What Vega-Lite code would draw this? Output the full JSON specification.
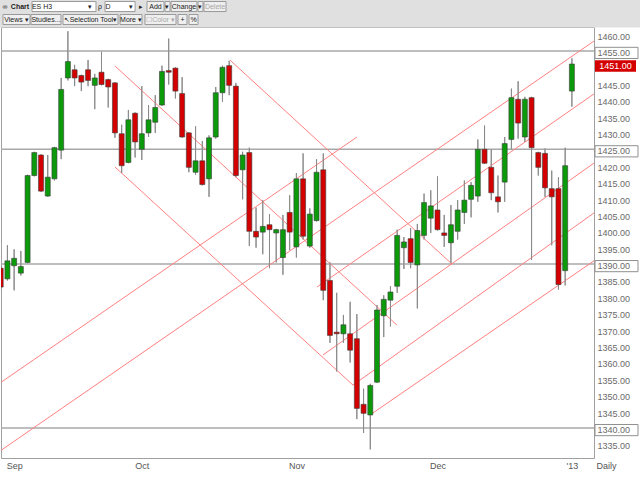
{
  "$schema": "https://vega.github.io/schema/vega-lite/v6.json",
  "width": 593,
  "height": 431,
  "autosize": {"type": "none"},
  "padding": {"left": 1, "top": 27, "right": 46, "bottom": 19},
  "background": "white",
  "config": {
    "view": {"stroke": "#a0a0a0", "strokeWidth": 1},
    "font": "Liberation Sans",
    "axis": {"labelOverlap": false, "labelBound": false, "grid": false, "ticks": false, "domain": false}
  },
  "datasets": {
    "candles": [
      {"i":0,"o":1388.75,"h":1389.5,"l":1382,"c":1383},
      {"i":1,"o":1385.5,"h":1395.75,"l":1385,"c":1391},
      {"i":2,"o":1389.5,"h":1394.5,"l":1382,"c":1391.75},
      {"i":3,"o":1387.25,"h":1394,"l":1386.5,"c":1389.25},
      {"i":4,"o":1390.5,"h":1417.25,"l":1390.25,"c":1417},
      {"i":5,"o":1417,"h":1424.25,"l":1416.75,"c":1424},
      {"i":6,"o":1423.25,"h":1423.5,"l":1412,"c":1412.25},
      {"i":7,"o":1410.75,"h":1423.25,"l":1410.5,"c":1416.5},
      {"i":8,"o":1416,"h":1425.75,"l":1415.5,"c":1425.5},
      {"i":9,"o":1424.75,"h":1446.75,"l":1422,"c":1443.25},
      {"i":10,"o":1446.75,"h":1461,"l":1446,"c":1451.75},
      {"i":11,"o":1449.25,"h":1450.75,"l":1444.25,"c":1446.75},
      {"i":12,"o":1447.5,"h":1447.75,"l":1442.75,"c":1445.5},
      {"i":13,"o":1449.25,"h":1452.25,"l":1444.25,"c":1446},
      {"i":14,"o":1444.5,"h":1448,"l":1437.25,"c":1446.75},
      {"i":15,"o":1448.5,"h":1454.75,"l":1444.5,"c":1444.75},
      {"i":16,"o":1446.25,"h":1446.5,"l":1437.75,"c":1444},
      {"i":17,"o":1445.25,"h":1445.5,"l":1428.5,"c":1430},
      {"i":18,"o":1429.75,"h":1432.5,"l":1417.75,"c":1420},
      {"i":19,"o":1421,"h":1437,"l":1420.75,"c":1434},
      {"i":20,"o":1436,"h":1436.25,"l":1422.5,"c":1427.25},
      {"i":21,"o":1425,"h":1444.25,"l":1421.75,"c":1429.75},
      {"i":22,"o":1430,"h":1438.5,"l":1428.75,"c":1434},
      {"i":23,"o":1433.25,"h":1441.5,"l":1430,"c":1437.75},
      {"i":24,"o":1438.5,"h":1450.5,"l":1438.25,"c":1448.75},
      {"i":25,"o":1449,"h":1458.75,"l":1444.75,"c":1448.5},
      {"i":26,"o":1449.75,"h":1450,"l":1440.5,"c":1442.75},
      {"i":27,"o":1442,"h":1447,"l":1428.5,"c":1428.75},
      {"i":28,"o":1430,"h":1430.25,"l":1418,"c":1419.5},
      {"i":29,"o":1418,"h":1432,"l":1417.25,"c":1421.5},
      {"i":30,"o":1421.5,"h":1427.5,"l":1414,"c":1414.25},
      {"i":31,"o":1416,"h":1429.25,"l":1410.5,"c":1428.5},
      {"i":32,"o":1428.75,"h":1444,"l":1428.25,"c":1442.25},
      {"i":33,"o":1442.25,"h":1450.5,"l":1439.5,"c":1450},
      {"i":34,"o":1450.5,"h":1452,"l":1441.5,"c":1444.5},
      {"i":35,"o":1444.25,"h":1445.25,"l":1416.5,"c":1417},
      {"i":36,"o":1418.75,"h":1424.25,"l":1409.75,"c":1423.25},
      {"i":37,"o":1424,"h":1425.5,"l":1395.5,"c":1400},
      {"i":38,"o":1400,"h":1407.25,"l":1395,"c":1398.25},
      {"i":39,"o":1399.75,"h":1409.5,"l":1393,"c":1401.5},
      {"i":40,"o":1402,"h":1405.25,"l":1388.75,"c":1400.5},
      {"i":41,"o":1399.5,"h":1400.75,"l":1390.5,"c":1400.5},
      {"i":42,"o":1392,"h":1405,"l":1386.75,"c":1400.5},
      {"i":43,"o":1405.75,"h":1411,"l":1394.25,"c":1399.75},
      {"i":44,"o":1395.25,"h":1417.75,"l":1392,"c":1416},
      {"i":45,"o":1416,"h":1423.75,"l":1397.5,"c":1398.5},
      {"i":46,"o":1395.5,"h":1407,"l":1395,"c":1405.25},
      {"i":47,"o":1403.25,"h":1422,"l":1403,"c":1418},
      {"i":48,"o":1418.75,"h":1423.75,"l":1379,"c":1382},
      {"i":49,"o":1385,"h":1390.5,"l":1366,"c":1368.25},
      {"i":50,"o":1369.25,"h":1381.25,"l":1357.25,"c":1368.75},
      {"i":51,"o":1368.75,"h":1374.5,"l":1366,"c":1371.5},
      {"i":52,"o":1368.75,"h":1378.5,"l":1360,"c":1363.75},
      {"i":53,"o":1367.25,"h":1374.75,"l":1342.75,"c":1346},
      {"i":54,"o":1347.25,"h":1352,"l":1338.5,"c":1344.5},
      {"i":55,"o":1344,"h":1353.5,"l":1333.5,"c":1353},
      {"i":56,"o":1354,"h":1377.5,"l":1353.75,"c":1376},
      {"i":57,"o":1374.25,"h":1380.5,"l":1367.75,"c":1379.25},
      {"i":58,"o":1379,"h":1383.25,"l":1371,"c":1381.5},
      {"i":59,"o":1383.25,"h":1400.5,"l":1381.25,"c":1398.75},
      {"i":60,"o":1395,"h":1398.25,"l":1388.5,"c":1396.75},
      {"i":61,"o":1397.75,"h":1401,"l":1388.75,"c":1390.5},
      {"i":62,"o":1389.75,"h":1402.25,"l":1376.5,"c":1400.25},
      {"i":63,"o":1398.75,"h":1411.5,"l":1397.5,"c":1408.75},
      {"i":64,"o":1404,"h":1412.5,"l":1399.5,"c":1407.75},
      {"i":65,"o":1406.5,"h":1416.75,"l":1400.25,"c":1400.5},
      {"i":66,"o":1399.5,"h":1405,"l":1395.25,"c":1398.75},
      {"i":67,"o":1396.5,"h":1408,"l":1390.25,"c":1402},
      {"i":68,"o":1400,"h":1409.5,"l":1397.5,"c":1406.5},
      {"i":69,"o":1405.75,"h":1415.5,"l":1402.25,"c":1409.5},
      {"i":70,"o":1409.75,"h":1415,"l":1404.25,"c":1414},
      {"i":71,"o":1410.75,"h":1428,"l":1409,"c":1425},
      {"i":72,"o":1425,"h":1432.25,"l":1420.5,"c":1420.75},
      {"i":73,"o":1419.5,"h":1425,"l":1409.5,"c":1411.75},
      {"i":74,"o":1410.5,"h":1417,"l":1405.75,"c":1409},
      {"i":75,"o":1415,"h":1428.75,"l":1409,"c":1426.75},
      {"i":76,"o":1428,"h":1443.5,"l":1425,"c":1440.75},
      {"i":77,"o":1440.25,"h":1445.75,"l":1428.25,"c":1433},
      {"i":78,"o":1428.75,"h":1441,"l":1427.25,"c":1440.25},
      {"i":79,"o":1440.75,"h":1441,"l":1391.25,"c":1425.5},
      {"i":80,"o":1424,"h":1424.25,"l":1417,"c":1419.5},
      {"i":81,"o":1423.75,"h":1425.25,"l":1410.5,"c":1413.25},
      {"i":82,"o":1413,"h":1418.5,"l":1395.75,"c":1410.5},
      {"i":83,"o":1413,"h":1416.5,"l":1382.25,"c":1383.75},
      {"i":84,"o":1388,"h":1425.5,"l":1383.5,"c":1420},
      {"i":85,"o":1442.75,"h":1452.75,"l":1438,"c":1451}
    ],
    "hl": [{"v":1455},{"v":1425},{"v":1390},{"v":1340}],
    "last": [{"v":1451}],
    "tl": [
      {"i1":-0.1,"p1":1353.75,"i2":53.02,"p2":1428.75},
      {"i1":-0.1,"p1":1333.0,"i2":88.29,"p2":1458.0},
      {"i1":47.07,"p1":1383.0,"i2":88.29,"p2":1441.9},
      {"i1":47.96,"p1":1362.3,"i2":88.29,"p2":1420.8},
      {"i1":52.43,"p1":1353.1,"i2":88.29,"p2":1405.6},
      {"i1":54.96,"p1":1344.0,"i2":88.29,"p2":1391.0},
      {"i1":17.01,"p1":1450.4,"i2":58.97,"p2":1371.4},
      {"i1":34.12,"p1":1452.2,"i2":67.16,"p2":1390.0},
      {"i1":17.01,"p1":1419.6,"i2":52.43,"p2":1353.1}
    ],
    "uibox": [
      {"k":"band","x1":-0.2,"x2":95.3,"y1":1462.29,"y2":1470.7},
      {"k":"field","x1":4.66,"x2":14.18,"y1":1467.0,"y2":1470.06},
      {"k":"field","x1":15.52,"x2":20.0,"y1":1467.0,"y2":1470.06},
      {"k":"btn","x1":21.77,"x2":24.3,"y1":1467.0,"y2":1470.06},
      {"k":"btn","x1":24.45,"x2":25.2,"y1":1467.0,"y2":1470.06},
      {"k":"btn","x1":25.35,"x2":29.2,"y1":1467.0,"y2":1470.06},
      {"k":"btn","x1":29.36,"x2":30.1,"y1":1467.0,"y2":1470.06},
      {"k":"btn","x1":30.25,"x2":33.53,"y1":1467.0,"y2":1470.06},
      {"k":"btn","x1":0.34,"x2":4.36,"y1":1463.05,"y2":1466.1},
      {"k":"btn","x1":4.51,"x2":8.97,"y1":1463.05,"y2":1466.1},
      {"k":"btn","x1":9.27,"x2":17.46,"y1":1463.05,"y2":1466.1},
      {"k":"btn","x1":17.76,"x2":21.03,"y1":1463.05,"y2":1466.1},
      {"k":"btn","x1":21.47,"x2":26.09,"y1":1463.05,"y2":1466.1},
      {"k":"btn","x1":26.38,"x2":27.72,"y1":1463.05,"y2":1466.1},
      {"k":"btn","x1":28.02,"x2":29.36,"y1":1463.05,"y2":1466.1}
    ],
    "uitext": [
      {"k":"on","t":"∞","x":0.64,"y":1468.54},
      {"k":"bold","t":"Chart","x":2.87,"y":1468.54},
      {"k":"on","t":"ES H3","x":6.15,"y":1468.54},
      {"k":"on","t":"▾","x":13.29,"y":1468.54},
      {"k":"on","t":"ρ","x":14.78,"y":1468.54},
      {"k":"on","t":"D","x":15.97,"y":1468.54},
      {"k":"on","t":"▾","x":19.39,"y":1468.54},
      {"k":"on","t":"▸","x":20.88,"y":1468.54},
      {"k":"on","t":"Add","x":23.04,"y":1468.54},
      {"k":"on","t":"▾","x":24.82,"y":1468.54},
      {"k":"on","t":"Change","x":27.27,"y":1468.54},
      {"k":"on","t":"▾","x":29.73,"y":1468.54},
      {"k":"off","t":"Delete","x":31.89,"y":1468.54},
      {"k":"on","t":"Views ▾","x":2.35,"y":1464.57},
      {"k":"on","t":"Studies...","x":6.74,"y":1464.57},
      {"k":"on","t":"↖","x":9.9,"y":1464.57},
      {"k":"on","t":"Selection Tool","x":13.5,"y":1464.57},
      {"k":"on","t":"▾","x":17.0,"y":1464.57},
      {"k":"on","t":"More ▾","x":19.39,"y":1464.57},
      {"k":"off","t":"☐Color ▾","x":23.78,"y":1464.57},
      {"k":"on","t":"+","x":27.05,"y":1464.57},
      {"k":"on","t":"%","x":28.69,"y":1464.57}
    ]
  },
  "layer": [
    {
      "data": {"name": "candles"},
      "mark": {"type": "rule", "color": "#8a8a8a", "strokeWidth": 1, "clip": true},
      "encoding": {
        "x": {"field": "i", "type": "quantitative", "scale": {"domain": [0.0446, 88.29], "nice": false, "zero": false, "padding": 0},
          "axis": {"values": [2, 21, 44, 65, 85], "tickCount": 20, "labelExpr": "datum.value==2?'Sep':datum.value==21?'Oct':datum.value==44?'Nov':datum.value==65?'Dec':\"'13\"", "labelFont": "Liberation Sans", "labelFontSize": 9, "labelColor": "#555555", "labelPadding": 3, "labelFlush": false, "labelOverlap": false, "title": "Daily", "titleFont": "Liberation Sans", "titleFontSize": 9, "titleFontWeight": "normal", "titleColor": "#555555", "titleX": 605, "titleY": 3, "titleBaseline": "top", "titleAlign": "center"}},
        "y": {"field": "l", "type": "quantitative", "scale": {"domain": [1330.88, 1462.29], "nice": false, "zero": false},
          "axis": {"orient": "right", "values": [1335, 1340, 1345, 1350, 1355, 1360, 1365, 1370, 1375, 1380, 1385, 1390, 1395, 1400, 1405, 1410, 1415, 1420, 1425, 1430, 1435, 1440, 1445, 1455, 1460], "tickCount": 60, "format": ".2f", "labelFont": "Liberation Sans", "labelFontSize": 9, "labelColor": "#6a6a6a", "labelPadding": 3, "labelBaseline": "top", "labelOffset": -2.5, "labelFlush": false, "labelOverlap": false, "title": null}},
        "y2": {"field": "h"}
      }
    },
    {
      "data": {"name": "uibox"},
      "mark": {"type": "rect", "strokeWidth": 1},
      "encoding": {
        "x": {"field": "x1", "type": "quantitative", "scale": {"domain": [0.0446, 88.29], "nice": false, "zero": false, "padding": 0}},
        "x2": {"field": "x2"},
        "y": {"field": "y1", "type": "quantitative", "scale": {"domain": [1330.88, 1462.29], "nice": false, "zero": false}, "axis": {"orient": "right"}},
        "y2": {"field": "y2"},
        "fill": {"condition": [{"test": "datum.k=='band'", "value": "#e0e0e0"}, {"test": "datum.k=='field'", "value": "#ffffff"}], "value": "#efefef"},
        "stroke": {"condition": {"test": "datum.k=='band'", "value": "#e0e0e0"}, "value": "#9a9a9a"}
      }
    },
    {
      "data": {"name": "uitext"},
      "transform": [{"filter": "datum.k!='bold'"}],
      "mark": {"type": "text", "fontSize": 7, "baseline": "middle", "align": "center", "font": "Liberation Sans"},
      "encoding": {
        "x": {"field": "x", "type": "quantitative", "scale": {"domain": [0.0446, 88.29], "nice": false, "zero": false, "padding": 0}},
        "y": {"field": "y", "type": "quantitative", "scale": {"domain": [1330.88, 1462.29], "nice": false, "zero": false}, "axis": {"orient": "right"}},
        "text": {"field": "t"},
        "color": {"condition": {"test": "datum.k=='off'", "value": "#a8a8a8"}, "value": "#222222"}
      }
    },
    {
      "data": {"name": "uitext"},
      "transform": [{"filter": "datum.k=='bold'"}],
      "mark": {"type": "text", "fontSize": 7, "fontWeight": "bold", "baseline": "middle", "align": "center", "font": "Liberation Sans", "color": "#222222"},
      "encoding": {
        "x": {"field": "x", "type": "quantitative", "scale": {"domain": [0.0446, 88.29], "nice": false, "zero": false, "padding": 0}},
        "y": {"field": "y", "type": "quantitative", "scale": {"domain": [1330.88, 1462.29], "nice": false, "zero": false}, "axis": {"orient": "right"}},
        "text": {"field": "t"}
      }
    },
    {
      "data": {"name": "hl"},
      "mark": {"type": "rule", "color": "#a8a8a8", "strokeWidth": 1.5},
      "encoding": {
        "y": {"field": "v", "type": "quantitative", "scale": {"domain": [1330.88, 1462.29], "nice": false, "zero": false}, "axis": {"orient": "right"}}
      }
    },
    {
      "data": {"name": "hl"},
      "mark": {"type": "point", "shape": "M-1,-0.26L1,-0.26L1,0.26L-1,0.26Z", "size": 1849, "filled": false, "stroke": "#909090", "strokeWidth": 1, "opacity": 1, "yOffset": 2},
      "encoding": {
        "x": {"datum": 91.64, "type": "quantitative", "scale": {"domain": [0.0446, 88.29], "nice": false, "zero": false, "padding": 0}},
        "y": {"field": "v", "type": "quantitative", "scale": {"domain": [1330.88, 1462.29], "nice": false, "zero": false}, "axis": {"orient": "right"}}
      }
    },
    {
      "data": {"name": "tl"},
      "mark": {"type": "rule", "color": "#ff8080", "strokeWidth": 1, "clip": true},
      "encoding": {
        "x": {"field": "i1", "type": "quantitative", "scale": {"domain": [0.0446, 88.29], "nice": false, "zero": false, "padding": 0}},
        "y": {"field": "p1", "type": "quantitative", "scale": {"domain": [1330.88, 1462.29], "nice": false, "zero": false}, "axis": {"orient": "right"}},
        "x2": {"field": "i2"},
        "y2": {"field": "p2"}
      }
    },
    {
      "data": {"name": "candles"},
      "mark": {"type": "rule", "color": "#8a8a8a", "strokeWidth": 1, "clip": true},
      "encoding": {
        "x": {"field": "i", "type": "quantitative", "scale": {"domain": [0.0446, 88.29], "nice": false, "zero": false, "padding": 0}},
        "y": {"field": "l", "type": "quantitative", "scale": {"domain": [1330.88, 1462.29], "nice": false, "zero": false}, "axis": {"orient": "right"}},
        "y2": {"field": "h"}
      }
    },
    {
      "data": {"name": "candles"},
      "mark": {"type": "bar", "size": 5, "stroke": "#3a3a3a", "strokeWidth": 0.6, "clip": true},
      "encoding": {
        "x": {"field": "i", "type": "quantitative", "scale": {"domain": [0.0446, 88.29], "nice": false, "zero": false, "padding": 0}},
        "y": {"field": "o", "type": "quantitative", "scale": {"domain": [1330.88, 1462.29], "nice": false, "zero": false}, "axis": {"orient": "right"}},
        "y2": {"field": "c"},
        "color": {"condition": {"test": "datum.c >= datum.o", "value": "#0a9a0a"}, "value": "#d40000"}
      }
    },
    {
      "data": {"name": "last"},
      "mark": {"type": "point", "shape": "M-1,-0.285L1,-0.285L1,0.285L-1,0.285Z", "size": 1681, "filled": true, "color": "#d40000", "opacity": 1, "yOffset": 2},
      "encoding": {
        "x": {"datum": 91.49, "type": "quantitative", "scale": {"domain": [0.0446, 88.29], "nice": false, "zero": false, "padding": 0}},
        "y": {"field": "v", "type": "quantitative", "scale": {"domain": [1330.88, 1462.29], "nice": false, "zero": false}, "axis": {"orient": "right"}}
      }
    },
    {
      "data": {"name": "last"},
      "mark": {"type": "text", "color": "white", "fontSize": 9, "font": "Liberation Sans", "align": "center", "baseline": "middle", "dy": 2},
      "encoding": {
        "x": {"datum": 91.49, "type": "quantitative", "scale": {"domain": [0.0446, 88.29], "nice": false, "zero": false, "padding": 0}},
        "y": {"field": "v", "type": "quantitative", "scale": {"domain": [1330.88, 1462.29], "nice": false, "zero": false}, "axis": {"orient": "right"}},
        "text": {"field": "v", "type": "quantitative", "format": ".2f"}
      }
    }
  ]
}
